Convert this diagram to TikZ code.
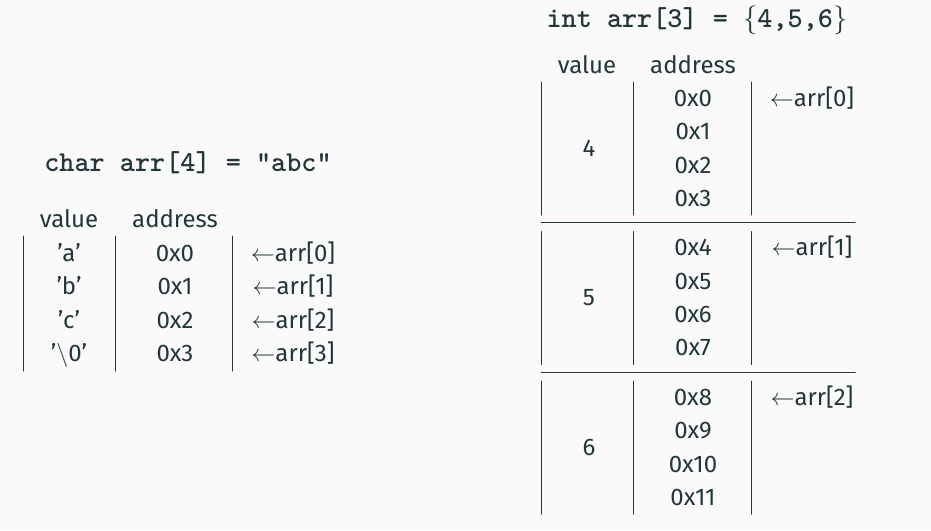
\documentclass[tikz,border=0pt]{standalone}
\usepackage{fontspec}
\setmainfont{Fira Sans}
\usepackage{tikz}
\definecolor{bg}{HTML}{FAFAFA}
\definecolor{ink}{HTML}{23373B}
\tikzset{
  title/.style={font=\fontsize{14.4}{17}\selectfont\ttfamily\bfseries},
  cell/.style={inner sep=0pt, text height=8.4pt, text depth=0pt},
  rule/.style={draw=ink, line width=0.5pt}
}

\begin{document}
\begin{tikzpicture}[x=0.5pt,y=-0.5pt, line cap=round, text=ink, font=\fontsize{12}{14}\selectfont]
        \useasboundingbox[fill=bg] (0,0) rectangle (931,530);
        % char array
        \node[title] (ctitle) at (188,163) {char arr[4] = "abc"};
        \node[cell] (cval) at (69,219) {value};
        \node[cell] (cadr) at (175,219) {address};
        \foreach \v [count=\i from 0] in {'a','b','c','$\backslash$0'} {
          \node[cell] (cv\i) at (69,{253+33.4*\i}) {\v};
          \node[cell] (ca\i) at (175,{253+33.4*\i}) {0x\i};
          \node[cell] (cp\i) at (293,{253+33.4*\i}) {$\leftarrow$arr[\i]};
        }
        \foreach \x in {23,115,232}
          \draw[rule] (\x,236) -- (\x,371);
        % int array
        \node[title] (ititle) at (697,20) {int arr[3] = $\{$4,5,6$\}$};
        \node[cell] (ival) at (587,65) {value};
        \node[cell] (iadr) at (693,65) {address};
        \foreach \n [count=\b from 0] in {4,5,6} {
          \pgfmathsetmacro{\top}{98+149.5*\b}
          \node[cell] (iv\b) at (589,{\top+50}) {\n};
          \node[cell] (ip\b) at (812,\top) {$\leftarrow$arr[\b]};
          \foreach \r in {0,...,3} {
            \pgfmathtruncatemacro{\k}{4*\b+\r}
            \node[cell] (ia\k) at (693,{\top+33.3*\r}) {0x\k};
          }
          \foreach \x in {541,633,751}
            \draw[rule] (\x,{\top-16}) -- (\x,{\top+117});
        }
        \draw[rule] (541,222) -- (855,222);
        \draw[rule] (541,372) -- (855,372);
      \end{tikzpicture}
\end{document}
